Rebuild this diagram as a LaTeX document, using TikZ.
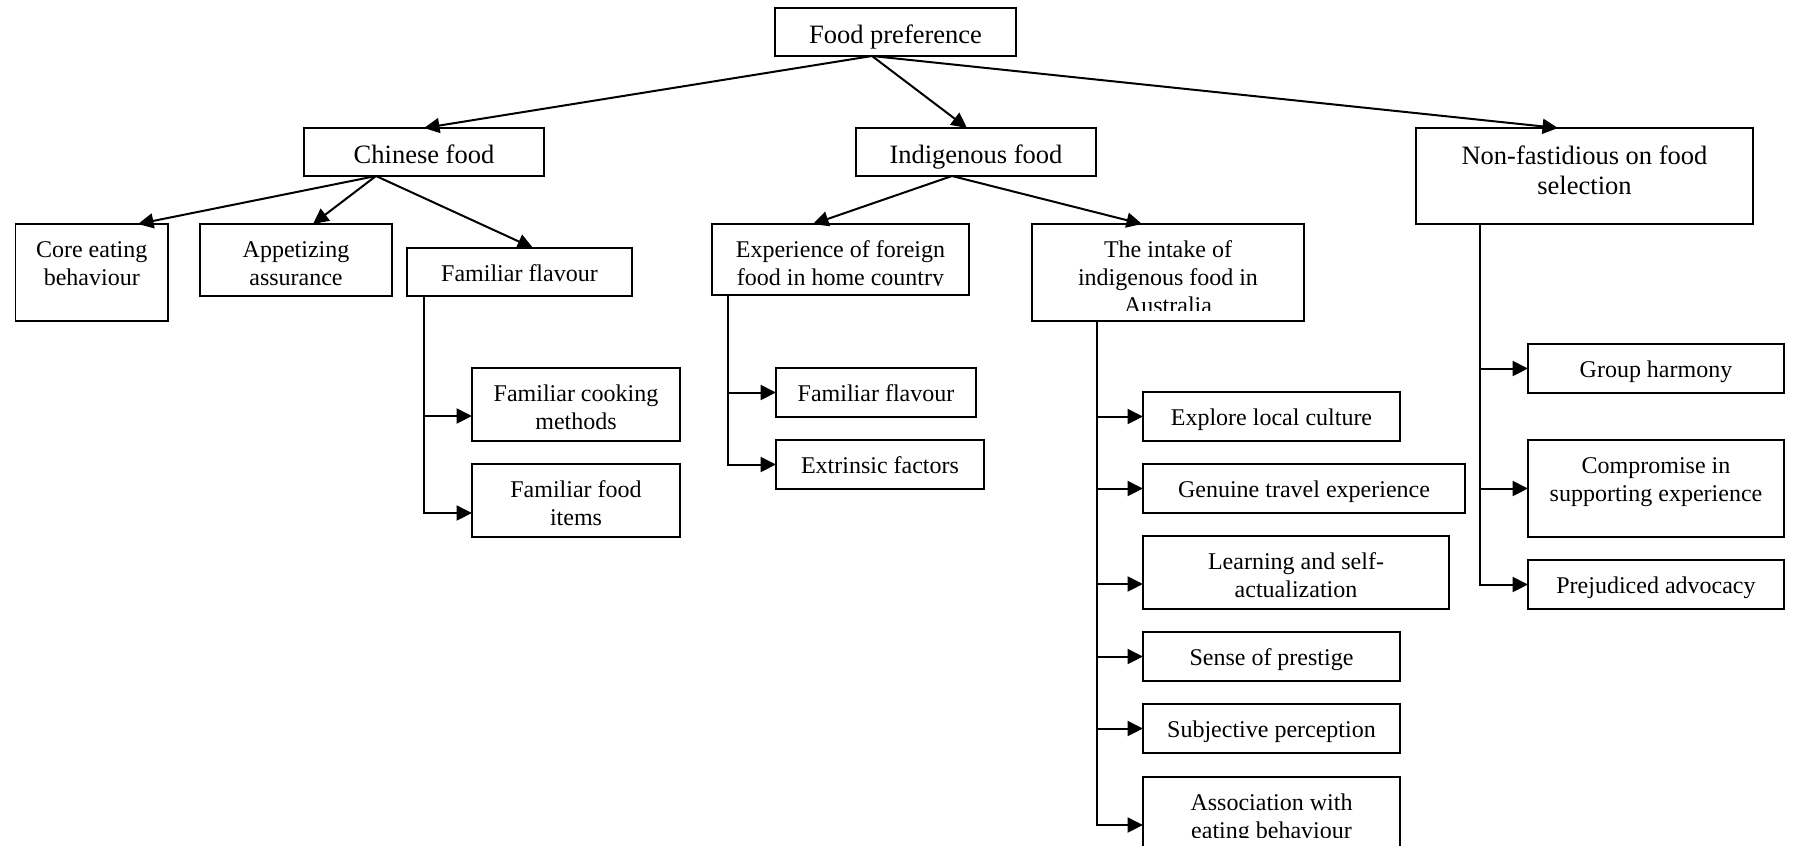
\documentclass[tikz,border=0pt]{standalone}
\usepackage{fontspec}
\setmainfont{Liberation Serif}
\usetikzlibrary{arrows.meta}

% Fixed-size text frame: width, height, first baseline depth, lines
\newcommand\frametext[4]{%
  \parbox[t][#2pt][t]{#1pt}{\centering\rule{0pt}{#3pt}#4}}

\tikzset{
  box/.style={draw, line width=1.8pt, inner sep=0pt, outer sep=0pt,
              anchor=north west, font=\fontsize{24}{28}\selectfont},
  bigbox/.style={box, font=\fontsize{26.5}{30}\selectfont},
  ghostbox/.style={box, draw=none},
  frame/.style={line width=1.8pt},
  arr/.style={line width=2pt, -{Triangle[length=15.5pt,width=15pt]}},
}

\begin{document}
\begin{tikzpicture}[x=1pt,y=-1pt]
\useasboundingbox (0,0) rectangle (1794,846);
\clip (0,0) rectangle (1794,846);

% ---- root and first level ----
\node[bigbox] (fp)  at (775,8)    {\frametext{241}{48}{35}{Food preference}};
\node[bigbox] (cf)  at (304,128)  {\frametext{240}{48}{35}{Chinese food}};
\node[bigbox] (inf) at (856,128)  {\frametext{240}{48}{35}{Indigenous food}};
\node[bigbox] (nf)  at (1416,128) {\frametext{337}{96}{36}{Non-fastidious on food\\selection}};

% ---- Chinese food branch ----
\node[box] (core) at (15.5,224) {\frametext{152.5}{97}{33}{Core eating\\behaviour}};
\node[box] (app)  at (200,224)  {\frametext{192}{72}{33}{Appetizing\\assurance}};
\node[box] (ffl)  at (407,248)  {\frametext{225}{48}{33}{Familiar flavour}};
\node[box] (fcm)  at (472,368)  {\frametext{208}{73}{33}{Familiar cooking\\methods}};
\node[box] (ffi)  at (472,464)  {\frametext{208}{73}{33}{Familiar food\\items}};

% ---- Indigenous food branch (text frames cut their last line) ----
\begin{scope}
  \clip (705,215) rectangle (975,285);
  \node[ghostbox] (exp) at (712,224) {\frametext{257}{71}{33}{Experience of foreign\\food in home country}};
\end{scope}
\draw[frame] (exp.north west) rectangle (exp.south east);

\begin{scope}
  \clip (1025,215) rectangle (1310,310.7);
  \node[ghostbox] (intake) at (1032,224) {\frametext{272}{97}{33}{The intake of\\indigenous food in\\Australia}};
\end{scope}
\draw[frame] (intake.north west) rectangle (intake.south east);

\node[box] (ffl2) at (776,368)  {\frametext{200}{49}{33}{Familiar flavour}};
\node[box] (ext)  at (776,440)  {\frametext{208}{49}{33}{Extrinsic factors}};

\node[box] (elc) at (1143,392) {\frametext{257}{49}{33}{Explore local culture}};
\node[box] (gte) at (1143,464) {\frametext{322}{49}{33}{Genuine travel experience}};
\node[box] (lsa) at (1143,536) {\frametext{306}{73}{33}{Learning and self-\\actualization}};
\node[box] (sop) at (1143,632) {\frametext{257}{49}{33}{Sense of prestige}};
\node[box] (sp)  at (1143,704) {\frametext{257}{49}{33}{Subjective perception}};

\begin{scope}
  \clip (1135,770) rectangle (1410,837.8);
  \node[ghostbox] (aeb) at (1143,777) {\frametext{257}{100}{33}{Association with\\eating behaviour}};
\end{scope}
\draw[frame] (aeb.north west) rectangle (aeb.south east);

% ---- Non-fastidious branch ----
\node[box] (gh)  at (1528,344) {\frametext{256}{49}{33}{Group harmony}};
\node[box] (cse) at (1528,440) {\frametext{256}{97}{33}{Compromise in\\supporting experience}};
\node[box] (pa)  at (1528,560) {\frametext{256}{49}{33}{Prejudiced advocacy}};

% ---- connectors from the root ----
\draw[arr] ([xshift=-23.5]fp.south) -- (cf.north);
\draw[arr] ([xshift=-23.5]fp.south) -- ([xshift=-9]inf.north);
\draw[arr] ([xshift=-23.5]fp.south) -- ([xshift=-26.5]nf.north);

% ---- Chinese food connectors ----
\draw[arr] ([xshift=-48]cf.south) -- ([xshift=46.25]core.north);
\draw[arr] ([xshift=-48]cf.south) -- ([xshift=17]app.north);
\draw[arr] ([xshift=-48]cf.south) -- ([xshift=13.5]ffl.north);
\draw[arr] ([xshift=17]ffl.south west) |- ([yshift=-48]fcm.north west);
\draw[arr] ([xshift=17]ffl.south west) |- ([yshift=-49]ffi.north west);

% ---- Indigenous food connectors ----
\draw[arr] ([xshift=-24]inf.south) -- ([xshift=-27.5]exp.north);
\draw[arr] ([xshift=-24]inf.south) -- ([xshift=-26]intake.north);
\draw[arr] ([xshift=16]exp.south west) |- (ffl2.west);
\draw[arr] ([xshift=16]exp.south west) |- (ext.west);
\draw[arr] ([xshift=65]intake.south west) |- (elc.west);
\draw[arr] ([xshift=65]intake.south west) |- (gte.west);
\draw[arr] ([xshift=65]intake.south west) |- ([yshift=-48]lsa.north west);
\draw[arr] ([xshift=65]intake.south west) |- (sop.west);
\draw[arr] ([xshift=65]intake.south west) |- (sp.west);
\draw[arr] ([xshift=65]intake.south west) |- ([yshift=-48]aeb.north west);

% ---- Non-fastidious connectors ----
\draw[arr] ([xshift=64]nf.south west) |- (gh.west);
\draw[arr] ([xshift=64]nf.south west) |- (cse.west);
\draw[arr] ([xshift=64]nf.south west) |- (pa.west);
\end{tikzpicture}
\end{document}
